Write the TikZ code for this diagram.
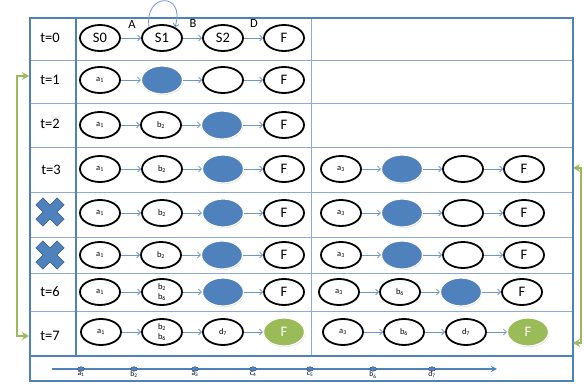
\documentclass[tikz,border=0pt]{standalone}
\usepackage{fontspec}
\setmainfont{Carlito}
\usetikzlibrary{shapes.geometric,arrows.meta,shadows}
\definecolor{blu}{HTML}{4F81BD}
\definecolor{bludark}{HTML}{385D8A}
\definecolor{grn}{HTML}{9BBB59}
\definecolor{gridin}{HTML}{8EAADB}
\definecolor{conncol}{HTML}{6F97CF}
\tikzset{
  st/.style={ellipse, draw=black, line width=1.8pt, minimum width=40pt, minimum height=26pt, inner sep=0pt, font=\fontsize{14.5}{16}\selectfont},
  sm/.style={st, font=\fontsize{8.5}{9}\selectfont, align=center},
  bl/.style={ellipse, fill=blu, draw=white, line width=1.2pt, minimum width=41pt, minimum height=28pt, inner sep=0pt, drop shadow={opacity=0.3, shadow xshift=0.6pt, shadow yshift=-1pt}},
  gr/.style={bl, fill=grn, text=white, font=\fontsize{14.5}{16}\selectfont},
  conn/.style={draw=conncol, line width=0.8pt, -{Straight Barb[length=3pt,width=6pt]}},
  lbl/.style={font=\fontsize{12.5}{14}\selectfont, inner sep=0pt},
  tlab/.style={font=\fontsize{14.5}{16}\selectfont, inner sep=0pt},
  axlab/.style={font=\fontsize{7.5}{8}\selectfont, inner sep=0pt},
  dot/.style={ellipse, fill=blu, draw=bludark, line width=0.5pt, minimum width=7pt, minimum height=4.5pt, inner sep=0pt},
  outer/.style={draw=blu, line width=1.3pt},
  inner/.style={draw=gridin, line width=0.8pt},
  gline/.style={draw=grn, line width=2.8pt, {Stealth[length=7pt,width=8pt]}-{Stealth[length=7pt,width=8pt]}},
  xmark/.style={fill=blu, draw=bludark, line width=0.6pt}
}
\newcommand{\sub}[2]{#1\textsubscript{#2}}
\begin{document}
\begin{tikzpicture}[x=1pt,y=-1pt]
\useasboundingbox (0,0) rectangle (584,387);
% grid
\foreach \yy in {60,103,147,192,237,273,311,356} \draw[inner] (30,\yy) -- (573,\yy);
\draw[outer] (76,18) -- (76,356);
\draw[inner] (311,18) -- (311,356);
\draw[outer] (30,356) -- (573,356);
\draw[outer] (30,18) rectangle (573,381);
% left labels
\node[tlab] (t0) at (50,38) {t=0};
\node[tlab] (t1) at (50,80) {t=1};
\node[tlab] (t2) at (50,124) {t=2};
\node[tlab] (t3) at (51,170) {t=3};
\node[tlab] (t6) at (50,292) {t=6};
\node[tlab] (t7) at (50,336) {t=7};
\foreach \yy in {212,255}
  \filldraw[xmark, shift={(50,\yy)}, rotate=45] (-5,-15) -- (5,-15) -- (5,-5) -- (15,-5) -- (15,5) -- (5,5) -- (5,15) -- (-5,15) -- (-5,5) -- (-15,5) -- (-15,-5) -- (-5,-5) -- cycle;
% row 0
\node[st] (s0) at (100,38) {S0};
\node[st] (s1) at (162,38) {S1};
\node[st] (s2) at (223,38) {S2};
\node[st] (f0) at (284,38) {F};
\node[lbl] (la) at (132,24) {A};
\node[lbl] (lb) at (193,23) {B};
\node[lbl] (ld) at (254,23) {D};
\draw[conn] (s1.140) .. controls (144,-8) and (186,-8) .. (s1.40);
% row 1
\node[sm] (r1a) at (100,80) {\sub{a}{1}};
\node[bl] (r1b) at (162,80) {};
\node[st] (r1c) at (223,80) {};
\node[st] (r1d) at (284,80) {F};
% row 2
\node[sm] (r2a) at (100,125) {\sub{a}{1}};
\node[sm] (r2b) at (161,125) {\sub{b}{2}};
\node[bl] (r2c) at (222,125) {};
\node[st] (r2d) at (284,125) {F};
% row 3
\node[sm] (r3a) at (100,169) {\sub{a}{1}};
\node[sm] (r3b) at (162,169) {\sub{b}{2}};
\node[bl] (r3c) at (223,169) {};
\node[st] (r3d) at (284,169) {F};
\node[sm] (r3e) at (341,169) {\sub{a}{3}};
\node[bl] (r3f) at (402,169) {};
\node[st] (r3g) at (463,169) {};
\node[st] (r3h) at (524,169) {F};
% row 4
\node[sm] (r4a) at (100,213) {\sub{a}{1}};
\node[sm] (r4b) at (162,213) {\sub{b}{2}};
\node[bl] (r4c) at (223,213) {};
\node[st] (r4d) at (284,213) {F};
\node[sm] (r4e) at (341,213) {\sub{a}{3}};
\node[bl] (r4f) at (402,213) {};
\node[st] (r4g) at (463,213) {};
\node[st] (r4h) at (524,213) {F};
% row 5
\node[sm] (r5a) at (100,255) {\sub{a}{1}};
\node[sm] (r5b) at (161,255) {\sub{b}{2}};
\node[bl] (r5c) at (222,255) {};
\node[st] (r5d) at (284,255) {F};
\node[sm] (r5e) at (341,255) {\sub{a}{3}};
\node[bl] (r5f) at (402,255) {};
\node[st] (r5g) at (463,255) {};
\node[st] (r5h) at (524,255) {F};
% row 6
\node[sm] (r6a) at (100,292) {\sub{a}{1}};
\node[sm] (r6b) at (162,292) {\sub{b}{2}\\[1pt]\sub{b}{6}};
\node[bl] (r6c) at (223,292) {};
\node[st] (r6d) at (284,292) {F};
\node[sm] (r6e) at (339,292) {\sub{a}{3}};
\node[sm] (r6f) at (400,292) {\sub{b}{6}};
\node[bl] (r6g) at (461,292) {};
\node[st] (r6h) at (522,292) {F};
% row 7
\node[sm] (r7a) at (101,332) {\sub{a}{1}};
\node[sm] (r7b) at (162,332) {\sub{b}{2}\\[1pt]\sub{b}{6}};
\node[sm] (r7c) at (223,332) {\sub{d}{7}};
\node[gr] (r7d) at (284,332) {F};
\node[sm] (r7e) at (343,332) {\sub{a}{3}};
\node[sm] (r7f) at (404,332) {\sub{b}{6}};
\node[sm] (r7g) at (466,332) {\sub{d}{7}};
\node[gr] (r7h) at (528,332) {F};
% connectors
\foreach \p/\q in {s0/s1,s1/s2,s2/f0,
  r1a/r1b,r1b/r1c,r1c/r1d, r2a/r2b,r2b/r2c,r2c/r2d,
  r3a/r3b,r3b/r3c,r3c/r3d, r3e/r3f,r3f/r3g,r3g/r3h,
  r4a/r4b,r4b/r4c,r4c/r4d, r4e/r4f,r4f/r4g,r4g/r4h,
  r5a/r5b,r5b/r5c,r5c/r5d, r5e/r5f,r5f/r5g,r5g/r5h,
  r6a/r6b,r6b/r6c,r6c/r6d, r6e/r6f,r6f/r6g,r6g/r6h,
  r7a/r7b,r7b/r7c,r7c/r7d, r7e/r7f,r7f/r7g,r7g/r7h}
  \draw[conn] (\p) -- (\q);
% green brackets
\coordinate (gla) at (29,76);
\coordinate (glb) at (17,76);
\coordinate (glc) at (17,336);
\coordinate (gld) at (29,336);
\draw[gline] (gla) -- (glb) -- (glc) -- (gld);
\coordinate (gra) at (573,168);
\coordinate (grb) at (581,168);
\coordinate (grc) at (581,343);
\coordinate (grd) at (573,343);
\draw[gline] (gra) -- (grb) -- (grc) -- (grd);
% axis
\coordinate (axs) at (52,369);
\coordinate (axe) at (497,369);
\draw[draw=blu, line width=1.6pt, -{Stealth[length=6pt,width=6pt]}] (axs) -- (axe);
\foreach \xx/\nm/\tx in {81/d1/\sub{a}{1},134/d2/\sub{b}{2},195/d3/\sub{a}{3},253/d4/\sub{c}{4},310/d5/\sub{c}{5},373/d6/\sub{b}{6},432/d7/\sub{d}{7}}{
  \node[dot] (\nm) at (\xx,369) {};
  \node[axlab, anchor=north] (\nm l) at (\xx,371.5) {\tx};
}
\end{tikzpicture}
\end{document}
